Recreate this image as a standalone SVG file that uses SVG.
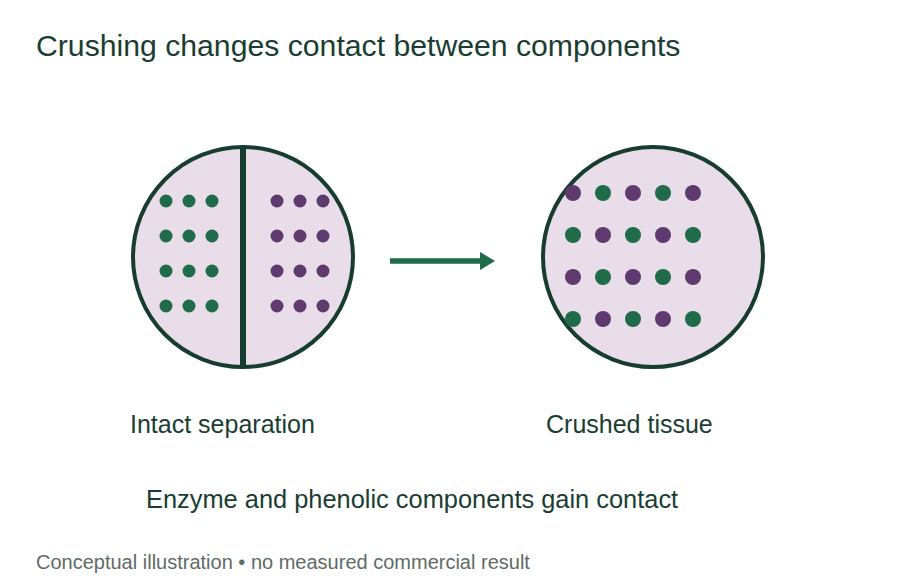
<svg xmlns="http://www.w3.org/2000/svg" width="900" height="580" viewBox="0 0 900 580">
<defs>
<style>
.t{font-family:"Liberation Sans",Arial,sans-serif;fill:#1a3d33}
.cell{fill:#e8dde8;stroke:#173d30;stroke-width:4}
.g{fill:#1f6b4a}
.p{fill:#5e3a6e}
</style>
<marker id="ah" viewBox="0 0 15 18" refX="0" refY="9" markerWidth="15" markerHeight="18" markerUnits="userSpaceOnUse" orient="auto">
<path d="M0,0 L15,9 L0,18 Z" fill="#1f6b4a"/>
</marker>
</defs>
<rect width="900" height="580" fill="#ffffff"/>
<text class="t" x="36" y="56" font-size="30.2">Crushing changes contact between components</text>
<g id="intact">
<circle class="cell" cx="243" cy="257" r="110"/>
<line x1="243" y1="147" x2="243" y2="368" stroke="#173d30" stroke-width="6"/>
<g class="g">
<circle cx="166" cy="201" r="6.5"/><circle cx="189" cy="201" r="6.5"/><circle cx="212" cy="201" r="6.5"/>
<circle cx="166" cy="236" r="6.5"/><circle cx="189" cy="236" r="6.5"/><circle cx="212" cy="236" r="6.5"/>
<circle cx="166" cy="271" r="6.5"/><circle cx="189" cy="271" r="6.5"/><circle cx="212" cy="271" r="6.5"/>
<circle cx="166" cy="306" r="6.5"/><circle cx="189" cy="306" r="6.5"/><circle cx="212" cy="306" r="6.5"/>
</g>
<g class="p">
<circle cx="277" cy="201" r="6.5"/><circle cx="300" cy="201" r="6.5"/><circle cx="323" cy="201" r="6.5"/>
<circle cx="277" cy="236" r="6.5"/><circle cx="300" cy="236" r="6.5"/><circle cx="323" cy="236" r="6.5"/>
<circle cx="277" cy="271" r="6.5"/><circle cx="300" cy="271" r="6.5"/><circle cx="323" cy="271" r="6.5"/>
<circle cx="277" cy="306" r="6.5"/><circle cx="300" cy="306" r="6.5"/><circle cx="323" cy="306" r="6.5"/>
</g>
<text class="t" x="130" y="433" font-size="25">Intact separation</text>
</g>
<g id="crushed">
<circle class="cell" cx="653" cy="257" r="110"/>
<circle class="p" cx="573" cy="193" r="8"/><circle class="g" cx="603" cy="193" r="8"/><circle class="p" cx="633" cy="193" r="8"/><circle class="g" cx="663" cy="193" r="8"/><circle class="p" cx="693" cy="193" r="8"/>
<circle class="g" cx="573" cy="235" r="8"/><circle class="p" cx="603" cy="235" r="8"/><circle class="g" cx="633" cy="235" r="8"/><circle class="p" cx="663" cy="235" r="8"/><circle class="g" cx="693" cy="235" r="8"/>
<circle class="p" cx="573" cy="277" r="8"/><circle class="g" cx="603" cy="277" r="8"/><circle class="p" cx="633" cy="277" r="8"/><circle class="g" cx="663" cy="277" r="8"/><circle class="p" cx="693" cy="277" r="8"/>
<circle class="g" cx="573" cy="319" r="8"/><circle class="p" cx="603" cy="319" r="8"/><circle class="g" cx="633" cy="319" r="8"/><circle class="p" cx="663" cy="319" r="8"/><circle class="g" cx="693" cy="319" r="8"/>
<text class="t" x="546" y="433" font-size="25">Crushed tissue</text>
</g>
<g id="connectors">
<line x1="390" y1="261" x2="480" y2="261" stroke="#1f6b4a" stroke-width="5.5" marker-end="url(#ah)"/>
</g>
<text class="t" x="146" y="508" font-size="25.4">Enzyme and phenolic components gain contact</text>
<text x="36" y="569" font-size="20" font-family="'Liberation Sans',Arial,sans-serif" fill="#5f6b66">Conceptual illustration • no measured commercial result</text>
</svg>
